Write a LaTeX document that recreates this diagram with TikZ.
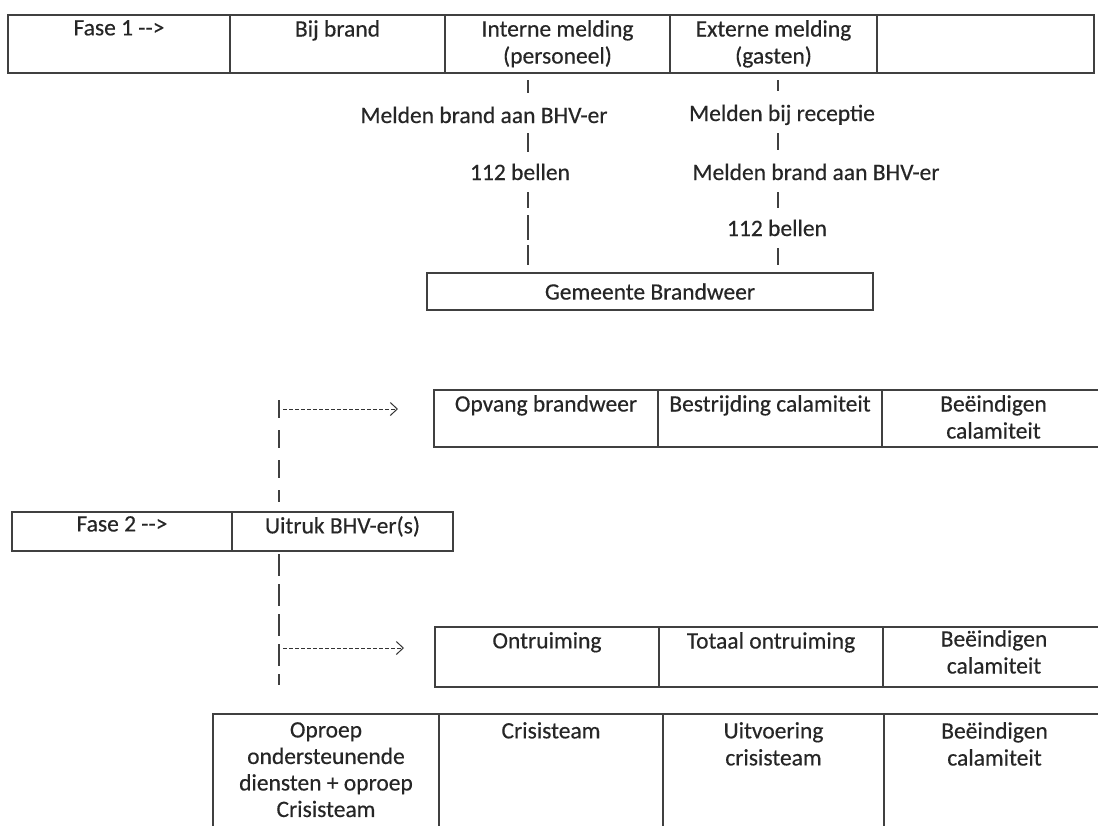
\documentclass[tikz,border=0pt]{standalone}
\usepackage{fontspec}
\setmainfont{Carlito}[FakeBold=0.35]
\usetikzlibrary{arrows.meta}
\begin{document}
\begin{tikzpicture}[x=1pt,y=-1pt,
  cell/.style={draw=black!75, line width=1.6pt, inner sep=0pt, outer sep=0pt,
    font=\fontsize{23.5}{27}\selectfont, text=black!85},
  txt/.style={font=\fontsize{23.5}{27}\selectfont, text=black!85, align=center,
    inner sep=0pt, anchor=north},
  txtb/.style={font=\fontsize{23.5}{27}\selectfont, text=black!85,
    inner sep=0pt, anchor=base},
  conn/.style={draw=black!75, line width=1.4pt},
  vdash/.style={conn, dash pattern=on 18pt off 12pt},
  vdashb/.style={conn, dash pattern=on 22pt off 8pt},
  ldash/.style={conn, dash pattern=on 16pt off 7pt on 25pt off 5pt on 30pt off 5pt},
  harr/.style={draw=black!80, line width=0.9pt, dash pattern=on 3.5pt off 2.5pt,
    -{Straight Barb[length=7pt,width=13pt,line width=1pt]}}
]
\clip (0,0) rectangle (1098,825);
\fill[white] (0,0) rectangle (1098,825);

% ---------- Fase 1 table ----------
\node[cell, minimum width=222pt, minimum height=58pt] (c11) at (119,44) {};
\node[cell, minimum width=215pt, minimum height=58pt] (c12) at (337.5,44) {};
\node[cell, minimum width=225pt, minimum height=58pt] (c13) at (557.5,44) {};
\node[cell, minimum width=207pt, minimum height=58pt] (c14) at (773.5,44) {};
\node[cell, minimum width=217pt, minimum height=58pt] (c15) at (985.5,44) {};
\node[txt] (t11) at ([yshift=-5pt]c11.north) {Fase 1 -{}->};
\node[txt] (t12) at ([yshift=-5pt]c12.north) {Bij brand};
\node[txt] (t13) at ([yshift=-5pt]c13.north) {Interne melding\\(personeel)};
\node[txt] (t14) at ([yshift=-5pt]c14.north) {Externe melding\\(gasten)};

% ---------- melding chains ----------
\coordinate (L) at (528,0);
\coordinate (R) at (778,0);
\node[txtb] (m1) at (484,123) {Melden brand aan BHV-er};
\node[txtb] (m2) at (520,180) {112 bellen};
\node[txtb] (r1) at (782,121) {Melden bij receptie};
\node[txtb] (r2) at (816,180) {Melden brand aan BHV-er};
\node[txtb] (r3) at (777,236) {112 bellen};
\node[cell, minimum width=446pt, minimum height=37pt] (gb) at (650,291.5) {Gemeente Brandweer};

\draw[conn] ([yshift=-7pt]c13.south -| L) -- ([yshift=30pt]m1.base -| L);
\draw[conn] ([yshift=-10pt]m1.base -| L) -- ([yshift=28pt]m2.base -| L);
\draw[ldash] ([yshift=-12pt]m2.base -| L) -- ([yshift=8pt]gb.north -| L);

\draw[conn] ([yshift=-7pt]c14.south -| R) -- ([yshift=30pt]r1.base -| R);
\draw[conn] ([yshift=-12pt]r1.base -| R) -- ([yshift=30pt]r2.base -| R);
\draw[conn] ([yshift=-12pt]r2.base -| R) -- ([yshift=28pt]r3.base -| R);
\draw[conn] ([yshift=-12pt]r3.base -| R) -- ([yshift=8pt]gb.north -| R);

% ---------- Opvang row ----------
\node[cell, minimum width=224pt, minimum height=57pt] (o1) at (546,418.5) {};
\node[cell, minimum width=224pt, minimum height=57pt] (o2) at (770,418.5) {};
\node[cell, minimum width=223pt, minimum height=57pt] (o3) at (993.5,418.5) {};
\node[txt] (to1) at ([yshift=-5pt]o1.north) {Opvang brandweer};
\node[txt] (to2) at ([yshift=-5pt]o2.north) {Bestrijding calamiteit};
\node[txt] (to3) at ([yshift=-5pt]o3.north) {Beëindigen\\calamiteit};

% ---------- Fase 2 row ----------
\node[cell, minimum width=220pt, minimum height=39pt] (f1) at (122,531.5) {};
\node[cell, minimum width=221pt, minimum height=39pt] (f2) at (342.5,531.5) {};
\node[txt] (tf1) at ([yshift=-4pt]f1.north) {Fase 2 -{}->};
\node[txt] (tf2) at ([yshift=-4pt]f2.north) {Uitruk BHV-er(s)};

% ---------- Ontruiming row ----------
\node[cell, minimum width=224pt, minimum height=60pt] (n1) at (547,657) {};
\node[cell, minimum width=224pt, minimum height=60pt] (n2) at (771,657) {};
\node[cell, minimum width=222pt, minimum height=60pt] (n3) at (994,657) {};
\node[txt] (tn1) at ([yshift=-5pt]n1.north) {Ontruiming};
\node[txt] (tn2) at ([yshift=-5pt]n2.north) {Totaal ontruiming};
\node[txt] (tn3) at ([yshift=-3pt]n3.north) {Beëindigen\\calamiteit};

% ---------- bottom row ----------
\node[cell, minimum width=226pt, minimum height=126pt] (b1) at (326,777) {};
\node[cell, minimum width=224pt, minimum height=126pt] (b2) at (551,777) {};
\node[cell, minimum width=221pt, minimum height=126pt] (b3) at (773.5,777) {};
\node[cell, minimum width=221pt, minimum height=126pt] (b4) at (994.5,777) {};
\node[txt, font=\fontsize{23.5}{26.5}\selectfont] (tb1) at ([yshift=-8pt]b1.north) {Oproep\\ondersteunende\\diensten + oproep\\Crisisteam};
\node[txt] (tb2) at ([yshift=-8pt]b2.north) {Crisisteam};
\node[txt] (tb3) at ([yshift=-8pt]b3.north) {Uitvoering\\crisisteam};
\node[txt] (tb4) at ([yshift=-8pt]b4.north) {Beëindigen\\calamiteit};

% ---------- dashed vertical and arrows ----------
\coordinate (V) at (279,0);
\coordinate (vtop) at (279,400);
\coordinate (vbot) at (279,685);
\coordinate (a1s) at (283,409);
\coordinate (a1e) at (398,409);
\coordinate (a2s) at (283,648);
\coordinate (a2e) at (404,648);
\draw[vdash] (vtop) -- ([yshift=10pt]f2.north -| V);
\draw[vdashb] ([yshift=-3pt]f2.south -| V) -- (vbot);
\draw[harr] (a1s) -- (a1e);
\draw[harr] (a2s) -- (a2e);
\end{tikzpicture}
\end{document}
